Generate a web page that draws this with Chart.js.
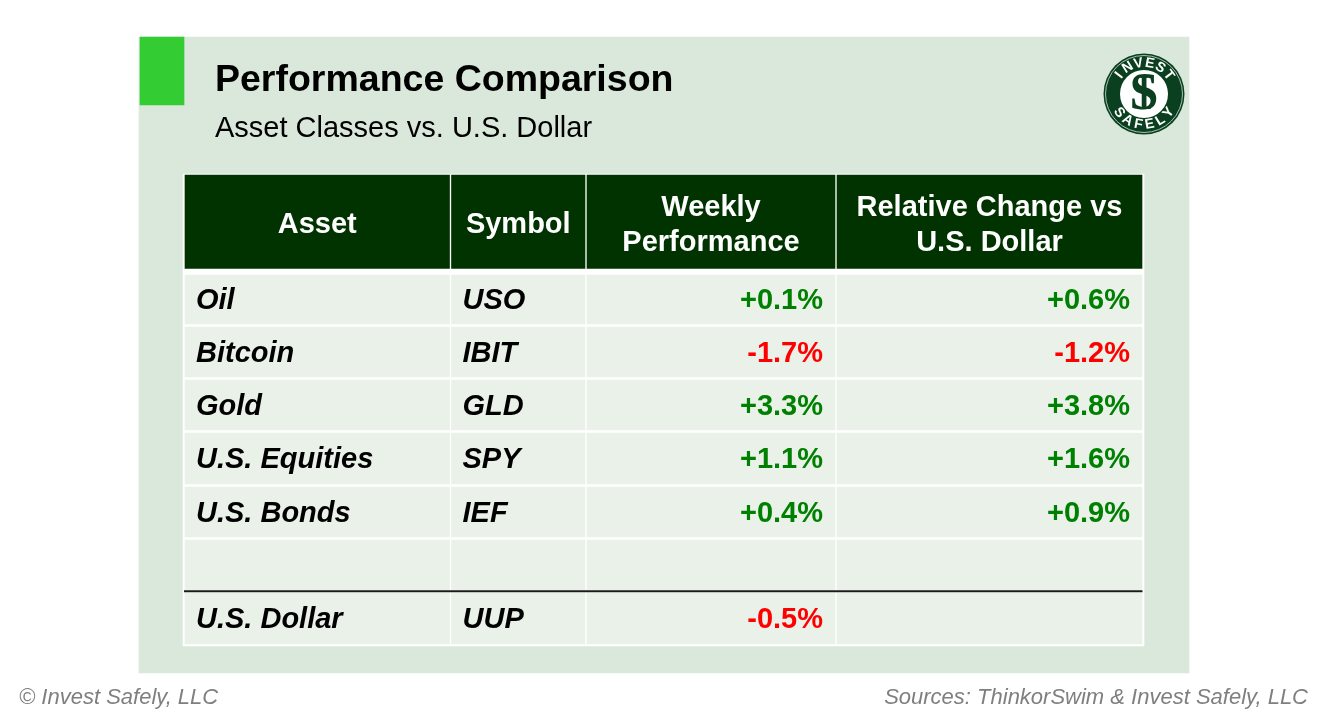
<!DOCTYPE html>
<html>
<head>
<meta charset="utf-8">
<style>html,body{margin:0;padding:0;background:#fff;overflow:hidden}canvas{display:block}</style>
<script src="https://cdn.jsdelivr.net/npm/chart.js@4"></script>
</head>
<body>
<canvas id="c" width="1327" height="723"></canvas>
<script>
// table contents
const headers = ['Asset','Symbol',['Weekly','Performance'],['Relative Change vs','U.S. Dollar']];
const assets = ['Oil','Bitcoin','Gold','U.S. Equities','U.S. Bonds','','U.S. Dollar'];
const symbols = ['USO','IBIT','GLD','SPY','IEF','','UUP'];
const weeklyPerf = [0.1,-1.7,3.3,1.1,0.4,null,-0.5];
const relChange = [0.6,-1.2,3.8,1.6,0.9,null,null];
const titleText = 'Performance Comparison';
const subtitleText = 'Asset Classes vs. U.S. Dollar';
const footLeft = '© Invest Safely, LLC';
const footRight = 'Sources: ThinkorSwim & Invest Safely, LLC';

// layout, in page units (both scales run over the whole canvas)
const colEdges = [[185,449.5],[451.5,585],[587,835],[837,1142]];
const rowEdges = [[175,268.5],[275,324],[327,377],[380,430],[433,484],[487,537],[540,590],[593,644]];
const FONT = '"Liberation Sans"';
const DARK = '#003300', CELL = '#E9F1E9', PANEL = '#DAE8DB', ACCENT = '#33CC33';
const UP = '#008000', DOWN = '#FF0000';

const fmt = v => v===null ? '' : (v>0?'+':'')+v.toFixed(1)+'%';
const cols = [assets,symbols,weeklyPerf.map(fmt),relChange.map(fmt)];
const mid = a => (a[0]+a[1])/2;

function box(label,x0,x1,y0,y1,color,order){
  return {type:'bar',label,data:[{x:(x0+x1)/2,y:[y0,y1]}],barThickness:x1-x0,
    backgroundColor:color,borderWidth:0,grouped:false,order};
}
const cellSets = colEdges.map((c,i)=>({
  type:'bar',label:'col'+i,grouped:false,barThickness:c[1]-c[0],borderWidth:0,order:5,
  data:rowEdges.map(r=>({x:mid(c),y:r})),
  backgroundColor:rowEdges.map((r,j)=>j===0?DARK:CELL)
}));
const ruleSet = {type:'line',label:'rule',data:[{x:184,y:591.3},{x:1142.5,y:591.3}],
  borderColor:'#1a1a1a',borderWidth:2,pointRadius:0,order:1};

const tableText = {
  id:'tableText',
  afterDatasetsDraw(chart){
    const {ctx,scales:{x,y}} = chart;
    const put = (s,px,py,font,color,align) => {
      ctx.font = font; ctx.fillStyle = color; ctx.textAlign = align||'left'; ctx.textBaseline = 'middle';
      ctx.fillText(s,x.getPixelForValue(px),y.getPixelForValue(py));
    };
    ctx.save();
    put(titleText,215,80.5,'bold 37.5px '+FONT,'#000');
    put(subtitleText,215,129,'29px '+FONT,'#000');
    put(footLeft,19,698,'italic 22px '+FONT,'#7f7f7f');
    put(footRight,1308,698,'italic 22px '+FONT,'#7f7f7f','right');

    headers.forEach((h,i)=>{
      const cx = mid(colEdges[i]);
      if(Array.isArray(h)){
        put(h[0],cx,208,'bold 29px '+FONT,'#fff','center');
        put(h[1],cx,242.5,'bold 29px '+FONT,'#fff','center');
      } else put(h,cx,224.5,'bold 29px '+FONT,'#fff','center');
    });
    cols.forEach((col,i)=>{
      col.forEach((s,j)=>{
        if(!s) return;
        const py = mid(rowEdges[j+1])+1.5;
        if(i<2) put(s,colEdges[i][0]+11,py,'italic bold 29px '+FONT,'#000');
        else {
          const v = (i===2?weeklyPerf:relChange)[j];
          put(s,colEdges[i][1]-12,py,'bold 29px '+FONT,v<0?DOWN:UP,'right');
        }
      });
    });
    drawLogo(ctx,x.getPixelForValue(1144),y.getPixelForValue(94));
    ctx.restore();
  }
};

function arcText(ctx,s,cx,cy,r,midAngle,step,inward){
  ctx.font = 'bold 14px '+FONT; ctx.textAlign='center'; ctx.textBaseline='middle'; ctx.fillStyle='#fff';
  [...s].forEach((ch,i)=>{
    const a = midAngle+(i-(s.length-1)/2)*step*(inward?-1:1);
    ctx.save();
    ctx.translate(cx+r*Math.cos(a),cy+r*Math.sin(a));
    ctx.rotate(inward?a-Math.PI/2:a+Math.PI/2);
    ctx.fillText(ch,0,0);
    ctx.restore();
  });
}

function drawLogo(ctx,cx,cy){
  const green = '#0A4020';
  const disc = (r,c)=>{ctx.beginPath();ctx.arc(cx,cy,r,0,Math.PI*2);ctx.fillStyle=c;ctx.fill();};
  disc(40.5,green);
  ctx.beginPath();ctx.arc(cx,cy,38.5,0,Math.PI*2);ctx.strokeStyle='#cfe0d4';ctx.lineWidth=0.8;ctx.stroke();
  disc(24,'#fff');
  ctx.textAlign='center';ctx.textBaseline='middle';ctx.fillStyle=green;
  ctx.font='50px "Liberation Serif"';ctx.fillText('I',cx,cy+2);
  ctx.font='bold 52px "Liberation Serif"';ctx.fillText('S',cx,cy+2);
  arcText(ctx,'INVEST',cx,cy,31,-Math.PI/2,0.37,false);
  arcText(ctx,'SAFELY',cx,cy,31,Math.PI/2,0.37,true);
}

new Chart(document.getElementById('c'),{
  data:{datasets:[
    box('panel',139,1189,37,673,PANEL,12),
    box('accent',140,184,37,105,ACCENT,11),
    box('table',183,1144,174,646,'#fff',10),
    ...cellSets,
    ruleSet
  ]},
  options:{
    responsive:false,animation:false,devicePixelRatio:1,
    layout:{padding:0},
    plugins:{legend:{display:false},tooltip:{enabled:false},title:{display:false}},
    scales:{
      x:{type:'linear',min:0,max:1327,display:false,offset:false},
      y:{type:'linear',min:0,max:723,reverse:true,display:false}
    }
  },
  plugins:[tableText]
});
</script>
</body>
</html>
